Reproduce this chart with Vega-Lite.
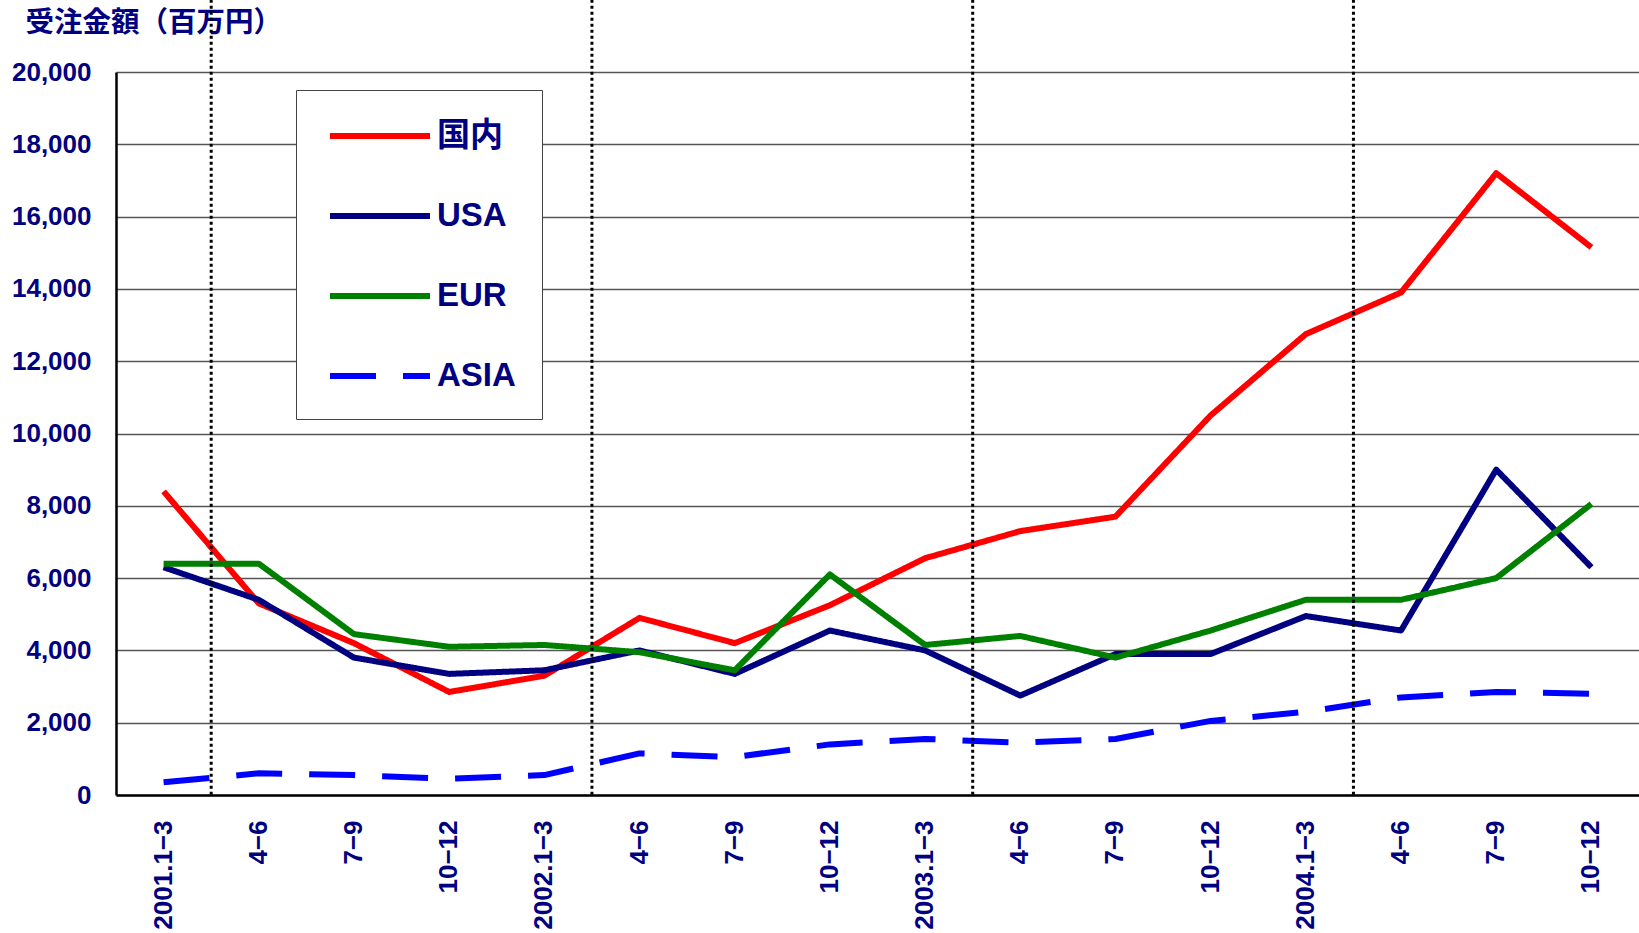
{
  "$schema": "https://vega.github.io/schema/vega-lite/v6.json",
  "width": 1523,
  "height": 723,
  "autosize": {"type": "none"},
  "padding": {"left": 116, "top": 72, "right": 0, "bottom": 138},
  "background": "white",
  "config": {
    "view": {"stroke": null},
    "font": "Liberation Sans, Noto Sans CJK JP",
    "axisX": {
      "title": null,
      "labelAngle": -90,
      "labelAlign": "right",
      "labelBaseline": "middle",
      "labelFontSize": 26,
      "labelFontWeight": "bold",
      "labelColor": "#000080",
      "labelPadding": 25,
      "ticks": false,
      "domainColor": "#000000",
      "domainWidth": 2.5,
      "grid": false
    },
    "axisY": {
      "titleAngle": 0,
      "titleAlign": "left",
      "titleBaseline": "middle",
      "titleX": -91,
      "titleY": -50,
      "titleFontSize": 28.5,
      "titleFontWeight": "bold",
      "titleColor": "#000080",
      "titleFont": "Noto Sans CJK JP",
      "labelFontSize": 26,
      "labelFontWeight": "bold",
      "labelColor": "#000080",
      "labelPadding": 25,
      "ticks": false,
      "domainColor": "#000000",
      "domainWidth": 2.5,
      "grid": true,
      "gridColor": "#555555",
      "gridWidth": 1.5
    }
  },
  "datasets": {
    "orders": [
      {"q": "2001.1-3", "series": "国内", "value": 8400},
      {"q": "2001.4-6", "series": "国内", "value": 5300},
      {"q": "2001.7-9", "series": "国内", "value": 4200},
      {"q": "2001.10-12", "series": "国内", "value": 2850},
      {"q": "2002.1-3", "series": "国内", "value": 3300},
      {"q": "2002.4-6", "series": "国内", "value": 4900},
      {"q": "2002.7-9", "series": "国内", "value": 4200},
      {"q": "2002.10-12", "series": "国内", "value": 5250},
      {"q": "2003.1-3", "series": "国内", "value": 6550},
      {"q": "2003.4-6", "series": "国内", "value": 7300},
      {"q": "2003.7-9", "series": "国内", "value": 7700},
      {"q": "2003.10-12", "series": "国内", "value": 10500},
      {"q": "2004.1-3", "series": "国内", "value": 12750},
      {"q": "2004.4-6", "series": "国内", "value": 13900},
      {"q": "2004.7-9", "series": "国内", "value": 17200},
      {"q": "2004.10-12", "series": "国内", "value": 15150},
      {"q": "2001.1-3", "series": "USA", "value": 6300},
      {"q": "2001.4-6", "series": "USA", "value": 5400},
      {"q": "2001.7-9", "series": "USA", "value": 3800},
      {"q": "2001.10-12", "series": "USA", "value": 3350},
      {"q": "2002.1-3", "series": "USA", "value": 3450},
      {"q": "2002.4-6", "series": "USA", "value": 4000},
      {"q": "2002.7-9", "series": "USA", "value": 3350},
      {"q": "2002.10-12", "series": "USA", "value": 4550},
      {"q": "2003.1-3", "series": "USA", "value": 4000},
      {"q": "2003.4-6", "series": "USA", "value": 2750},
      {"q": "2003.7-9", "series": "USA", "value": 3900},
      {"q": "2003.10-12", "series": "USA", "value": 3900},
      {"q": "2004.1-3", "series": "USA", "value": 4950},
      {"q": "2004.4-6", "series": "USA", "value": 4550},
      {"q": "2004.7-9", "series": "USA", "value": 9000},
      {"q": "2004.10-12", "series": "USA", "value": 6300},
      {"q": "2001.1-3", "series": "EUR", "value": 6400},
      {"q": "2001.4-6", "series": "EUR", "value": 6400},
      {"q": "2001.7-9", "series": "EUR", "value": 4450},
      {"q": "2001.10-12", "series": "EUR", "value": 4100},
      {"q": "2002.1-3", "series": "EUR", "value": 4150},
      {"q": "2002.4-6", "series": "EUR", "value": 3950},
      {"q": "2002.7-9", "series": "EUR", "value": 3450},
      {"q": "2002.10-12", "series": "EUR", "value": 6100},
      {"q": "2003.1-3", "series": "EUR", "value": 4150},
      {"q": "2003.4-6", "series": "EUR", "value": 4400},
      {"q": "2003.7-9", "series": "EUR", "value": 3800},
      {"q": "2003.10-12", "series": "EUR", "value": 4550},
      {"q": "2004.1-3", "series": "EUR", "value": 5400},
      {"q": "2004.4-6", "series": "EUR", "value": 5400},
      {"q": "2004.7-9", "series": "EUR", "value": 6000},
      {"q": "2004.10-12", "series": "EUR", "value": 8050},
      {"q": "2001.1-3", "series": "ASIA", "value": 350},
      {"q": "2001.4-6", "series": "ASIA", "value": 600},
      {"q": "2001.7-9", "series": "ASIA", "value": 550},
      {"q": "2001.10-12", "series": "ASIA", "value": 450},
      {"q": "2002.1-3", "series": "ASIA", "value": 550},
      {"q": "2002.4-6", "series": "ASIA", "value": 1150},
      {"q": "2002.7-9", "series": "ASIA", "value": 1050},
      {"q": "2002.10-12", "series": "ASIA", "value": 1400},
      {"q": "2003.1-3", "series": "ASIA", "value": 1550},
      {"q": "2003.4-6", "series": "ASIA", "value": 1450},
      {"q": "2003.7-9", "series": "ASIA", "value": 1550},
      {"q": "2003.10-12", "series": "ASIA", "value": 2050},
      {"q": "2004.1-3", "series": "ASIA", "value": 2300},
      {"q": "2004.4-6", "series": "ASIA", "value": 2700},
      {"q": "2004.7-9", "series": "ASIA", "value": 2850},
      {"q": "2004.10-12", "series": "ASIA", "value": 2800}
    ],
    "separators": [
      {"q": "2001.4-6"},
      {"q": "2002.4-6"},
      {"q": "2003.4-6"},
      {"q": "2004.4-6"}
    ]
  },
  "layer": [
    {
      "data": {"name": "orders"},
      "mark": {"type": "line", "strokeWidth": 6, "strokeJoin": "round"},
      "encoding": {
        "x": {
          "field": "q",
          "type": "nominal",
          "bandPosition": 0.5,
          "sort": ["2001.1-3","2001.4-6","2001.7-9","2001.10-12","2002.1-3","2002.4-6","2002.7-9","2002.10-12","2003.1-3","2003.4-6","2003.7-9","2003.10-12","2004.1-3","2004.4-6","2004.7-9","2004.10-12"],
          "scale": {"type": "band", "paddingInner": 0, "paddingOuter": 0},
          "axis": {
            "labelExpr": "indexof(datum.value, '.1-3') > 0 ? replace(datum.value, '-', '−') : replace(slice(datum.value, 5), '-', '−')"
          }
        },
        "y": {
          "field": "value",
          "type": "quantitative",
          "scale": {"domain": [0, 20000], "nice": false},
          "axis": {
            "title": "受注金額（百万円）",
            "values": [0, 2000, 4000, 6000, 8000, 10000, 12000, 14000, 16000, 18000, 20000],
            "labelExpr": "format(datum.value, ',')"
          }
        },
        "color": {
          "field": "series",
          "type": "nominal",
          "scale": {
            "domain": ["国内", "USA", "EUR", "ASIA"],
            "range": ["#ff0000", "#000080", "#008000", "#0000ff"]
          },
          "legend": {
            "title": null,
            "orient": "none",
            "legendX": 180,
            "legendY": 18,
            "fillColor": "white",
            "strokeColor": "#444444",
            "padding": 26,
            "symbolType": "M-3,0H3",
            "symbolSize": 1111,
            "symbolOffset": 38,
            "symbolStrokeWidth": 6,
            "labelFontSize": 33,
            "labelFontWeight": "bold",
            "labelColor": "#000080",
            "labelOffset": 37,
            "rowPadding": 43,
            "labelFont": "Liberation Sans, Noto Sans CJK JP"
          }
        },
        "strokeDash": {
          "field": "series",
          "type": "nominal",
          "scale": {
            "domain": ["国内", "USA", "EUR", "ASIA"],
            "range": [[1, 0], [1, 0], [1, 0], [46, 27]]
          }
        }
      }
    },
    {
      "data": {"name": "separators"},
      "mark": {"type": "rule", "strokeDash": [3, 3], "strokeWidth": 3, "color": "#000000"},
      "encoding": {
        "x": {
          "field": "q",
          "type": "nominal",
          "bandPosition": 0,
          "sort": ["2001.1-3","2001.4-6","2001.7-9","2001.10-12","2002.1-3","2002.4-6","2002.7-9","2002.10-12","2003.1-3","2003.4-6","2003.7-9","2003.10-12","2004.1-3","2004.4-6","2004.7-9","2004.10-12"],
          "scale": {"type": "band", "paddingInner": 0, "paddingOuter": 0},
          "axis": {
            "labelExpr": "indexof(datum.value, '.1-3') > 0 ? replace(datum.value, '-', '−') : replace(slice(datum.value, 5), '-', '−')"
          }
        },
        "y": {
          "datum": 22000,
          "type": "quantitative",
          "scale": {"domain": [0, 20000], "nice": false},
          "axis": {
            "title": "受注金額（百万円）",
            "values": [0, 2000, 4000, 6000, 8000, 10000, 12000, 14000, 16000, 18000, 20000],
            "labelExpr": "format(datum.value, ',')"
          }
        },
        "y2": {"datum": 0}
      }
    }
  ]
}
